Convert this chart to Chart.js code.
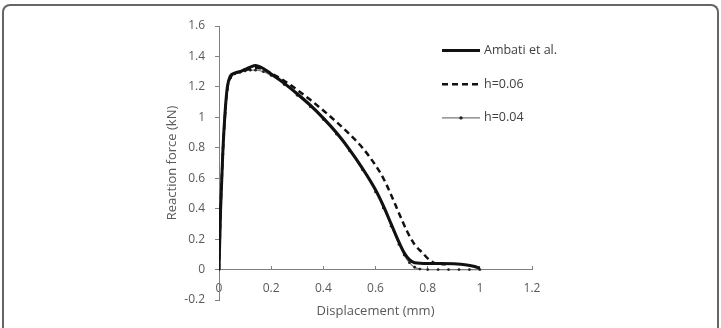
<!DOCTYPE html>
<html>
<head>
<meta charset="utf-8">
<script src="https://cdn.jsdelivr.net/npm/chart.js@4/dist/chart.umd.min.js"></script>
<style>
  html, body { margin: 0; padding: 0; background: #fff; }
  #wrap { position: relative; width: 721px; height: 328px; overflow: hidden; }
  #frame { position: absolute; left: 2px; top: 4px; width: 713px; height: 340px;
           border: 2px solid #666; border-bottom: none; border-radius: 8px 8px 0 0; }
  canvas { position: absolute; left: 0; top: 0; }
</style>
</head>
<body>
<div id="wrap">
  <div id="frame"></div>
  <canvas id="c" width="721" height="328"></canvas>
</div>
<script>
// ---- data ----
const seriesLabels = ["Ambati et al.", "h=0.06", "h=0.04"];

const ambatiX = [0, 0.006, 0.015, 0.024, 0.032, 0.043, 0.06, 0.08, 0.1, 0.12, 0.14, 0.17, 0.2, 0.25, 0.3, 0.35, 0.4, 0.45, 0.5, 0.55, 0.6, 0.63, 0.66, 0.69, 0.71, 0.73, 0.75, 0.8, 0.85, 0.9, 0.95, 0.98, 1.0];
const ambatiY = [0, 0.39, 0.785, 1.05, 1.2, 1.27, 1.29, 1.30, 1.315, 1.33, 1.34, 1.32, 1.285, 1.225, 1.155, 1.08, 0.995, 0.9, 0.79, 0.665, 0.525, 0.42, 0.30, 0.18, 0.11, 0.065, 0.045, 0.04, 0.04, 0.038, 0.03, 0.02, 0.008];

const h06X = [0, 0.006, 0.015, 0.024, 0.032, 0.045, 0.06, 0.08, 0.1, 0.12, 0.14, 0.17, 0.2, 0.25, 0.3, 0.35, 0.4, 0.45, 0.5, 0.55, 0.6, 0.63, 0.66, 0.69, 0.72, 0.75, 0.78, 0.81, 0.83, 0.87];
const h06Y = [0, 0.38, 0.77, 1.04, 1.19, 1.265, 1.29, 1.30, 1.31, 1.32, 1.325, 1.315, 1.29, 1.24, 1.18, 1.115, 1.045, 0.97, 0.89, 0.80, 0.685, 0.60, 0.49, 0.37, 0.255, 0.165, 0.11, 0.058, 0.04, 0.035];

const h04X = [0, 0.006, 0.015, 0.024, 0.032, 0.045, 0.06, 0.08, 0.1, 0.12, 0.14, 0.17, 0.2, 0.25, 0.3, 0.35, 0.4, 0.45, 0.5, 0.55, 0.6, 0.63, 0.66, 0.69, 0.71, 0.73, 0.75, 0.77, 0.8, 0.84, 0.88, 0.92, 0.96, 1.0];
const h04Y = [0, 0.38, 0.76, 1.03, 1.18, 1.26, 1.285, 1.295, 1.305, 1.31, 1.31, 1.30, 1.275, 1.215, 1.145, 1.07, 0.985, 0.89, 0.78, 0.655, 0.51, 0.405, 0.285, 0.165, 0.095, 0.045, 0.015, 0.003, 0, 0, 0, 0, 0, 0];

const xTicks = [0, 0.2, 0.4, 0.6, 0.8, 1, 1.2];
const yTicks = [-0.2, 0, 0.2, 0.4, 0.6, 0.8, 1, 1.2, 1.4, 1.6];
const xTitle = "Displacement (mm)";
const yTitle = "Reaction force (kN)";

// ---- chart ----
const toPts = (xs, ys) => xs.map((x, i) => ({ x: x, y: ys[i] }));
const FONT = "'Open Sans', 'DejaVu Sans', sans-serif";
Chart.defaults.font.family = FONT;
Chart.defaults.font.size = 12;
Chart.defaults.color = '#595959';

const legendPlugin = {
  id: 'sideLegend',
  afterDraw(chart) {
    const ctx = chart.ctx;
    const x0 = 442, x1 = 480, yStart = 50.5, gap = 33.7;
    chart.data.datasets.forEach((ds, i) => {
      const y = yStart + i * gap;
      ctx.save();
      ctx.strokeStyle = ds.borderColor;
      ctx.lineWidth = ds.borderWidth;
      ctx.setLineDash(ds.borderDash || []);
      ctx.beginPath();
      ctx.moveTo(x0, y);
      ctx.lineTo(x1, y);
      ctx.stroke();
      ctx.setLineDash([]);
      if (ds.pointRadius > 0) {
        ctx.fillStyle = ds.pointBackgroundColor;
        ctx.beginPath();
        ctx.arc((x0 + x1) / 2, y, ds.pointRadius + 0.3, 0, Math.PI * 2);
        ctx.fill();
      }
      ctx.fillStyle = '#404040';
      ctx.font = '12.5px ' + FONT;
      ctx.textBaseline = 'middle';
      ctx.textAlign = 'left';
      ctx.fillText(ds.label, x1 + 4, y);
      ctx.restore();
    });
  }
};

new Chart(document.getElementById('c'), {
  type: 'scatter',
  data: {
    datasets: [
      { label: seriesLabels[0], data: toPts(ambatiX, ambatiY), showLine: true,
        borderColor: '#111', borderWidth: 3, pointRadius: 0, cubicInterpolationMode: 'monotone' },
      { label: seriesLabels[1], data: toPts(h06X, h06Y), showLine: true,
        borderColor: '#111', borderWidth: 2.5, borderDash: [6, 4], pointRadius: 0, cubicInterpolationMode: 'monotone' },
      { label: seriesLabels[2], data: toPts(h04X, h04Y), showLine: true,
        borderColor: '#777', borderWidth: 1.2, pointRadius: 1.4, pointBackgroundColor: '#222',
        pointBorderWidth: 0, cubicInterpolationMode: 'monotone' }
    ]
  },
  options: {
    responsive: false,
    animation: false,
    events: [],
    layout: { padding: { left: 160, top: 26, right: 189, bottom: 0 } },
    plugins: {
      legend: { display: false },
      tooltip: { enabled: false },
      title: {
        display: true, text: xTitle, position: 'bottom', fullSize: false,
        color: '#595959', font: { size: 13, weight: 'normal', family: FONT },
        padding: { top: 3.5, bottom: 8.9 }
      }
    },
    scales: {
      x: {
        type: 'linear', position: { y: 0 }, min: 0, max: 1.2,
        afterBuildTicks: (s) => { s.ticks = xTicks.map(v => ({ value: v })); },
        afterFit: (s) => { s.height = 0; },
        ticks: { padding: 16, callback: (v) => String(Math.round(v * 10) / 10) },
        grid: { drawOnChartArea: false, drawTicks: true, tickLength: -4, color: '#808080', lineWidth: 1 },
        border: { color: '#808080', width: 1 }
      },
      y: {
        type: 'linear', position: 'left', min: -0.2, max: 1.6,
        afterBuildTicks: (s) => { s.ticks = yTicks.map(v => ({ value: v })); },
        afterFit: (s) => { s.width = 59; },
        ticks: { padding: 10, callback: (v) => String(Math.round(v * 10) / 10) },
        grid: { drawOnChartArea: false, drawTicks: true, tickLength: 4, color: '#808080', lineWidth: 1 },
        border: { color: '#808080', width: 1 },
        title: { display: true, text: yTitle, color: '#595959', font: { size: 13, family: FONT }, padding: { top: 4.2, bottom: 0 } }
      }
    }
  },
  plugins: [legendPlugin]
});
</script>
</body>
</html>
